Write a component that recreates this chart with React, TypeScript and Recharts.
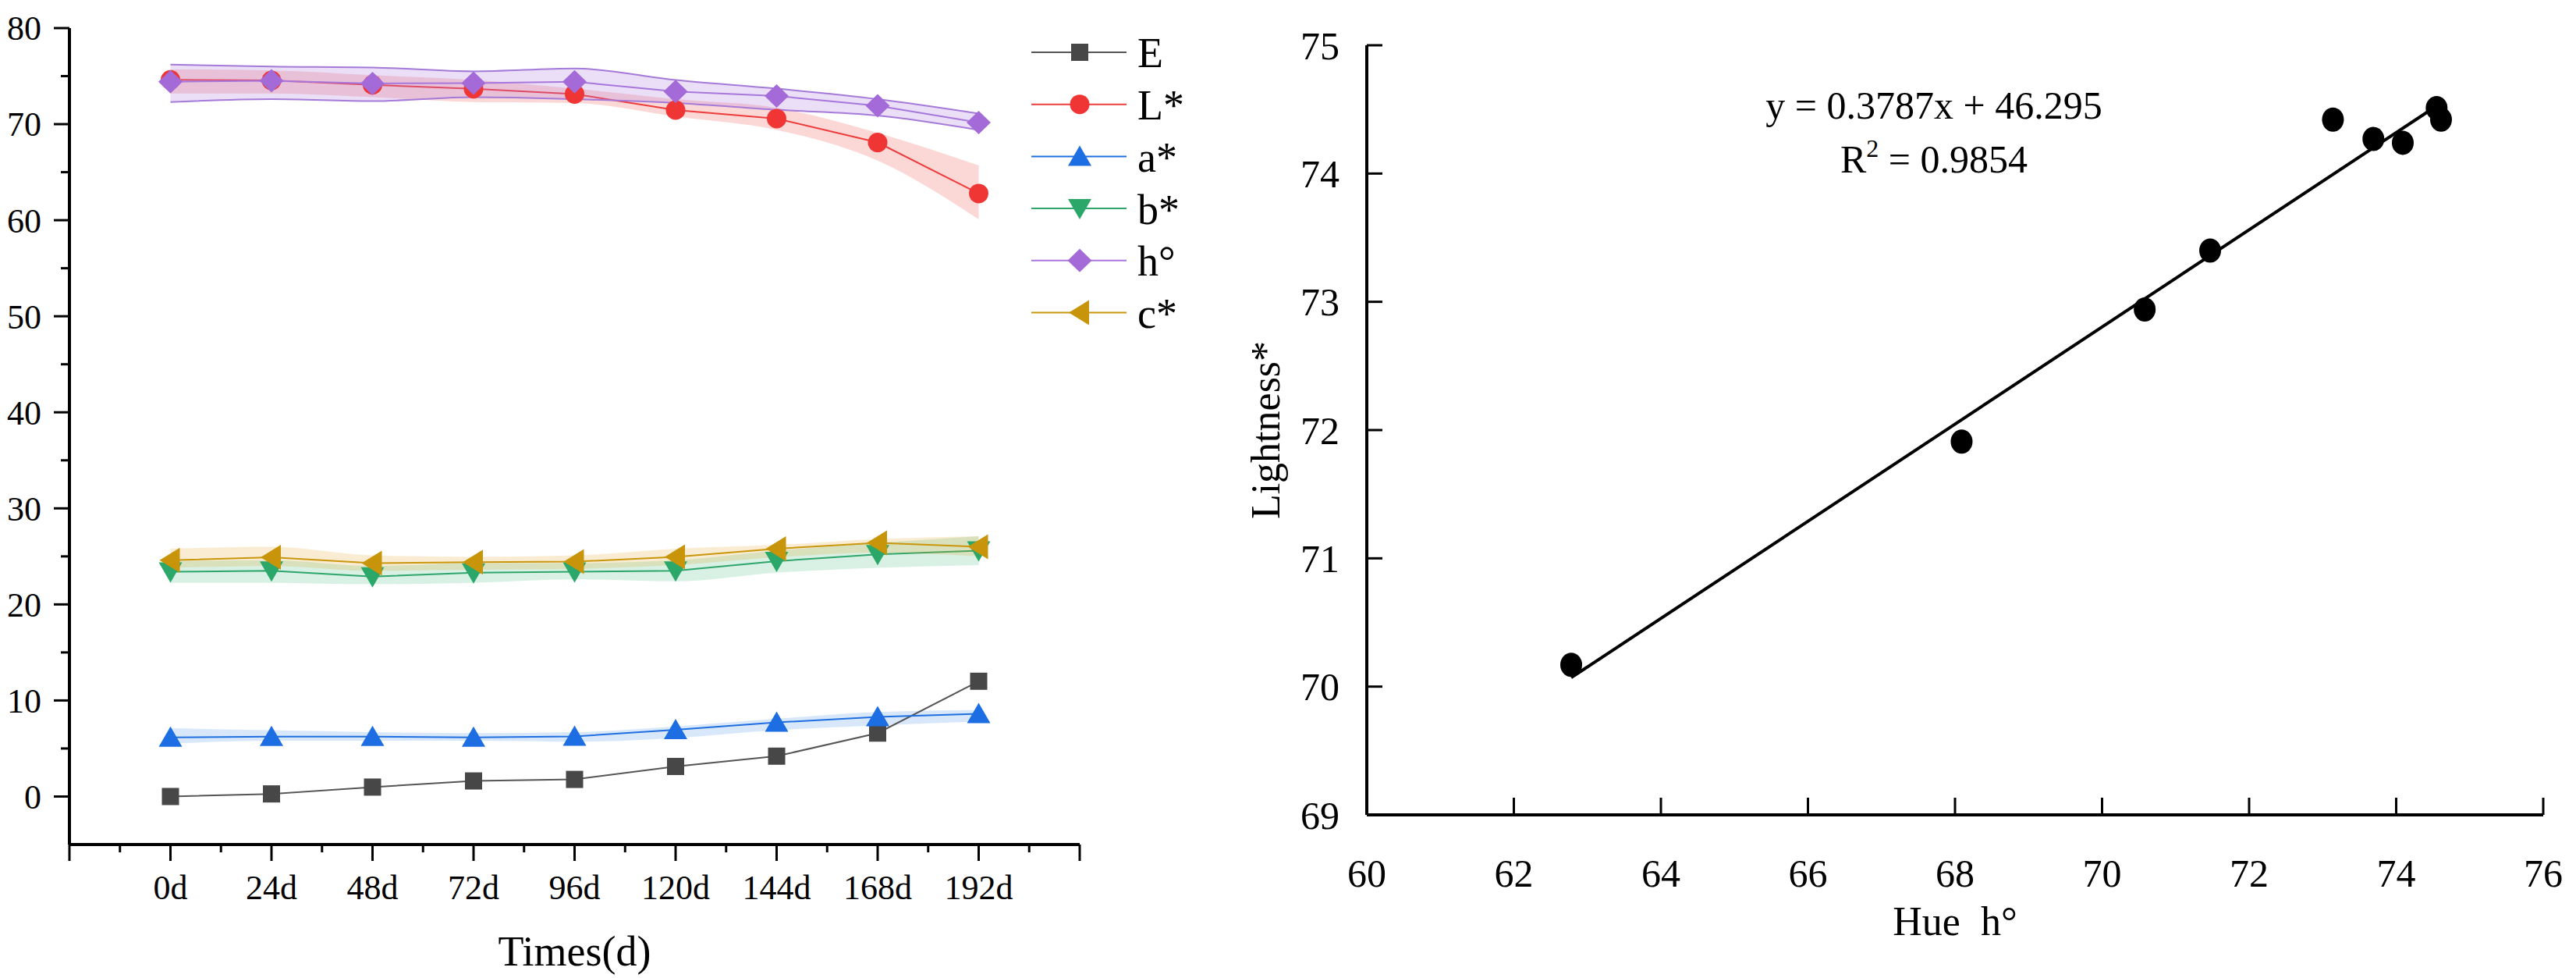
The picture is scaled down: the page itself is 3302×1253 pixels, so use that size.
import React from 'react';
import {
  ComposedChart,
  Line,
  Area,
  XAxis,
  YAxis,
  Legend,
  ScatterChart,
  Scatter,
  ReferenceLine,
} from 'recharts';

const FONT = '"Liberation Serif", "Times New Roman", Times, serif';

// storage time (days)
const days = [0, 24, 48, 72, 96, 120, 144, 168, 192];
const dayTicks = [-24, -12, 0, 12, 24, 36, 48, 60, 72, 84, 96, 108, 120, 132, 144, 156, 168, 180, 192, 204, 216];
const valueTicks = [0, 5, 10, 15, 20, 25, 30, 35, 40, 45, 50, 55, 60, 65, 70, 75, 80];

// colour parameters
const deltaE = [0.0, 0.27, 0.98, 1.62, 1.78, 3.13, 4.2, 6.6, 12.0];

const lightness = [74.61, 74.55, 74.09, 73.69, 73.14, 71.47, 70.58, 68.09, 62.78];
const lightnessLow = [73.2, 73.2, 72.8, 72.3, 72.2, 70.8, 69.4, 66.2, 60.1];
const lightnessHigh = [75.7, 75.6, 75.1, 74.6, 73.7, 72.6, 71.7, 69.1, 65.7];

const aStar = [6.16, 6.23, 6.23, 6.16, 6.26, 6.94, 7.71, 8.28, 8.62];
const aStarLow = [5.5, 5.8, 5.8, 5.8, 5.7, 6.1, 6.9, 7.4, 7.8];
const aStarHigh = [7.1, 6.9, 6.7, 6.6, 6.7, 7.3, 8.1, 8.8, 9.0];

const bStar = [23.4, 23.5, 22.9, 23.3, 23.4, 23.5, 24.5, 25.2, 25.6];
const bStarLow = [22.25, 22.25, 22.1, 22.25, 22.6, 22.4, 23.3, 23.8, 24.1];
const bStarHigh = [24.5, 24.6, 24.0, 24.3, 24.3, 24.6, 25.6, 26.4, 27.1];

const hue = [74.42, 74.51, 74.24, 74.27, 74.42, 73.4, 72.94, 71.91, 70.17];
const hueLow = [72.3, 72.6, 72.4, 72.8, 72.6, 72.2, 71.5, 70.9, 69.4];
const hueHigh = [76.2, 76.0, 75.9, 75.5, 75.8, 74.6, 73.7, 72.6, 71.1];

const cStar = [24.6, 24.9, 24.3, 24.4, 24.45, 24.95, 25.8, 26.4, 26.0];
const cStarLow = [23.8, 24.0, 23.5, 23.6, 23.7, 24.1, 24.9, 25.4, 25.0];
const cStarHigh = [25.8, 26.0, 25.1, 24.95, 25.1, 25.8, 26.2, 26.8, 27.1];

// linear fit shown on the right panel
const fitSlope = 0.3787;
const fitIntercept = 46.295;
const fitR2 = '0.9854';
const hueTicks = [60, 62, 64, 66, 68, 70, 72, 74, 76];
const lightTicks = [69, 70, 71, 72, 73, 74, 75];

const timeRows = days.map((t, i) => ({
  t,
  E: deltaE[i],
  L: lightness[i],
  Lband: [lightnessLow[i], lightnessHigh[i]],
  a: aStar[i],
  aband: [aStarLow[i], aStarHigh[i]],
  b: bStar[i],
  bband: [bStarLow[i], bStarHigh[i]],
  h: hue[i],
  hband: [hueLow[i], hueHigh[i]],
  c: cStar[i],
  cband: [cStarLow[i], cStarHigh[i]],
}));

const scatterRows = lightness.map((x, i) => ({ x, y: hue[i] }));
const fitFrom = Math.min(...lightness);
const fitTo = Math.max(...lightness);

type Shape = 'square' | 'circle' | 'up' | 'down' | 'diamond' | 'left';

const series: {
  key: string;
  name: string;
  color: string;
  marker: string;
  shape: Shape;
  band?: string;
  bandOpacity?: number;
  bandStroke?: string;
  z: number;
}[] = [
  { key: 'E', name: 'E', color: '#555555', marker: '#474747', shape: 'square', z: 400 },
  { key: 'L', name: 'L*', color: '#ee3b3b', marker: '#f03535', shape: 'circle', band: '#f06a64', bandOpacity: 0.27, z: 400 },
  { key: 'a', name: 'a*', color: '#1f6fe0', marker: '#1c6ee2', shape: 'up', band: '#3c8ce6', bandOpacity: 0.2, z: 400 },
  { key: 'b', name: 'b*', color: '#2ea66b', marker: '#2aa769', shape: 'down', band: '#3cb878', bandOpacity: 0.2, z: 400 },
  { key: 'h', name: 'h°', color: '#a877dc', marker: '#a46ad8', shape: 'diamond', band: '#b07fe0', bandOpacity: 0.26, bandStroke: '#a57ad8', z: 420 },
  { key: 'c', name: 'c*', color: '#c9960c', marker: '#c8950a', shape: 'left', band: '#e0a020', bandOpacity: 0.2, z: 420 },
];

function Marker({ shape, cx, cy, fill }: { shape: Shape; cx: number; cy: number; fill: string }) {
  if (cx == null || cy == null) return null;
  switch (shape) {
    case 'square':
      return <rect x={cx - 11} y={cy - 11} width={22} height={22} fill={fill} />;
    case 'circle':
      return <circle cx={cx} cy={cy} r={12.5} fill={fill} />;
    case 'up':
      return <polygon points={`${cx},${cy - 14} ${cx + 15},${cy + 12} ${cx - 15},${cy + 12}`} fill={fill} />;
    case 'down':
      return <polygon points={`${cx - 15},${cy - 12} ${cx + 15},${cy - 12} ${cx},${cy + 14}`} fill={fill} />;
    case 'diamond':
      return <polygon points={`${cx},${cy - 15} ${cx + 15.5},${cy} ${cx},${cy + 15} ${cx - 15.5},${cy}`} fill={fill} />;
    default:
      return <polygon points={`${cx - 14},${cy} ${cx + 12},${cy - 16} ${cx + 12},${cy + 16}`} fill={fill} />;
  }
}

const textStyle = { fontFamily: FONT };

const DayTick = (props: any) => {
  const { x, y, payload } = props;
  const v = payload.value;
  const major = v % 24 === 0;
  return (
    <g>
      <line x1={x} x2={x} y1={y} y2={y + (major ? 21 : 10)} stroke="#000" strokeWidth={3} />
      {major && v >= 0 && v <= 192 && (
        <text x={x} y={y + 70} textAnchor="middle" fontSize={44} fontFamily={FONT} style={textStyle} fill="#000">
          {`${v}d`}
        </text>
      )}
    </g>
  );
};

const ValueTick = (props: any) => {
  const { x, y, payload } = props;
  const v = payload.value;
  const major = v % 10 === 0;
  return (
    <g>
      <line x1={x} x2={x - (major ? 20 : 11)} y1={y} y2={y} stroke="#000" strokeWidth={3} />
      {major && (
        <text x={x - 36} y={y} dy="0.35em" textAnchor="end" fontSize={44} fontFamily={FONT} style={textStyle} fill="#000">
          {v}
        </text>
      )}
    </g>
  );
};

const TimeLegend = () => (
  <svg width={220} height={400} style={{ display: 'block', overflow: 'visible' }}>
    {series.map((s, i) => {
      const cy = 20 + i * 66.7;
      return (
        <g key={s.key}>
          <line x1={0} x2={122} y1={cy} y2={cy} stroke={s.color} strokeWidth={2} />
          <Marker shape={s.shape} cx={62} cy={cy} fill={s.marker} />
          <text x={136} y={cy} dy="0.36em" fontSize={54} fontFamily={FONT} style={textStyle} fill="#000">
            {s.name}
          </text>
        </g>
      );
    })}
  </svg>
);

const TimeChart = () => (
  <ComposedChart width={1560} height={1253} data={timeRows} margin={{ top: 36, right: 176, left: 0, bottom: 0 }}>
    <XAxis
      dataKey="t"
      type="number"
      domain={[-24, 216]}
      ticks={dayTicks}
      interval={0}
      height={171}
      tickLine={false}
      tickSize={0}
      tickMargin={0}
      tick={(p: any) => <DayTick {...p} />}
      axisLine={{ stroke: '#000', strokeWidth: 4 }}
      label={{ value: 'Times(d)', position: 'insideBottom', offset: 16, fontSize: 54, fill: '#000', fontFamily: FONT }}
    />
    <YAxis
      type="number"
      domain={[-5, 80]}
      ticks={valueTicks}
      interval={0}
      width={89}
      tickLine={false}
      tickSize={0}
      tickMargin={0}
      tick={(p: any) => <ValueTick {...p} />}
      axisLine={{ stroke: '#000', strokeWidth: 4 }}
    />
    {series.map((s) =>
      s.band ? (
        <Area
          key={`${s.key}band`}
          type="monotone"
          dataKey={`${s.key}band`}
          stroke={s.bandStroke ?? 'none'}
          strokeWidth={2}
          fill={s.band}
          fillOpacity={s.bandOpacity}
          dot={false}
          activeDot={false}
          legendType="none"
          zIndex={s.z === 400 ? 100 : 410}
          isAnimationActive={false}
        />
      ) : null
    )}
    {series.map((s) => (
      <Line
        key={s.key}
        type="linear"
        dataKey={s.key}
        stroke={s.color}
        strokeWidth={2}
        dot={(p: any) => <Marker key={`${s.key}-${p.index}`} shape={s.shape} cx={p.cx} cy={p.cy} fill={s.marker} />}
        activeDot={false}
        legendType="none"
        zIndex={s.z}
        isAnimationActive={false}
      />
    ))}
    <Legend
      layout="vertical"
      align="center"
      verticalAlign="middle"
      content={() => <TimeLegend />}
      wrapperStyle={{ left: 1322, top: 47, width: 220, height: 400 }}
    />
  </ComposedChart>
);

const HueTick = (props: any) => {
  const { x, y, payload } = props;
  const v = payload.value;
  return (
    <g>
      {v !== hueTicks[0] && <line x1={x} x2={x} y1={y} y2={y - 22} stroke="#000" strokeWidth={3} />}
      <text x={x} y={y + 92} textAnchor="middle" fontSize={50} fontFamily={FONT} style={textStyle} fill="#000">
        {v}
      </text>
    </g>
  );
};

const LightTick = (props: any) => {
  const { x, y, payload } = props;
  const v = payload.value;
  return (
    <g>
      {v !== lightTicks[0] && <line x1={x} x2={x + 20} y1={y} y2={y} stroke="#000" strokeWidth={3} />}
      <text x={x - 35} y={y} dy="0.35em" textAnchor="end" fontSize={50} fontFamily={FONT} style={textStyle} fill="#000">
        {v}
      </text>
    </g>
  );
};

const LightTitle = (props: any) => {
  const vb = props.viewBox || { x: 0, y: 58, width: 192, height: 986 };
  const cx = vb.x + 62;
  const cy = vb.y + vb.height / 2;
  return (
    <text
      x={cx}
      y={cy}
      dy="0.35em"
      transform={`rotate(-90 ${cx} ${cy})`}
      textAnchor="middle"
      fontSize={52}
      fontFamily={FONT}
      style={textStyle}
      fill="#000"
    >
      Lightness*
    </text>
  );
};

const FitNote = () => (
  <svg width={500} height={170} style={{ display: 'block' }}>
    <text x={250} y={72} textAnchor="middle" fontSize={50} fontFamily={FONT} style={textStyle} fill="#000">
      {`y = ${fitSlope}x + ${fitIntercept}`}
    </text>
    <text x={250} y={141} textAnchor="middle" fontSize={50} fontFamily={FONT} style={textStyle} fill="#000">
      <tspan>R</tspan>
      <tspan dy={-20} fontSize={32}>2</tspan>
      <tspan dy={20}>{` = ${fitR2}`}</tspan>
    </text>
  </svg>
);

const FitChart = () => (
  <ScatterChart width={1742} height={1253} margin={{ top: 58, right: 42, left: 0, bottom: 0 }}>
    <XAxis
      dataKey="x"
      type="number"
      domain={[60, 76]}
      ticks={hueTicks}
      interval={0}
      height={209}
      tickLine={false}
      tickSize={0}
      tickMargin={0}
      tick={(p: any) => <HueTick {...p} />}
      axisLine={{ stroke: '#000', strokeWidth: 4 }}
      label={{ value: 'Hue\u00a0 h°', position: 'insideBottom', offset: 55, fontSize: 52, fill: '#000', fontFamily: FONT }}
    />
    <YAxis
      dataKey="y"
      type="number"
      domain={[69, 75]}
      ticks={lightTicks}
      interval={0}
      width={192}
      tickLine={false}
      tickSize={0}
      tickMargin={0}
      tick={(p: any) => <LightTick {...p} />}
      axisLine={{ stroke: '#000', strokeWidth: 4 }}
      label={(p: any) => <LightTitle {...p} />}
    />
    <ReferenceLine
      segment={[
        { x: fitFrom, y: fitSlope * fitFrom + fitIntercept },
        { x: fitTo, y: fitSlope * fitTo + fitIntercept },
      ]}
      stroke="#000"
      strokeWidth={4}
    />
    <Scatter
      data={scatterRows}
      fill="#000"
      shape={(p: any) => <ellipse cx={p.cx} cy={p.cy} rx={14} ry={15.5} fill="#000" />}
      legendType="none"
      isAnimationActive={false}
    />
    <Legend
      layout="vertical"
      align="center"
      verticalAlign="middle"
      content={() => <FitNote />}
      wrapperStyle={{ left: 669, top: 80, width: 500, height: 170 }}
    />
  </ScatterChart>
);

export default function App() {
  return (
    <div style={{ position: 'absolute', left: 0, top: 0, width: 3302, height: 1253, background: '#fff', fontFamily: FONT }}>
      <div style={{ position: 'absolute', left: 0, top: 0 }}>
        <TimeChart />
      </div>
      <div style={{ position: 'absolute', left: 1560, top: 0 }}>
        <FitChart />
      </div>
    </div>
  );
}
